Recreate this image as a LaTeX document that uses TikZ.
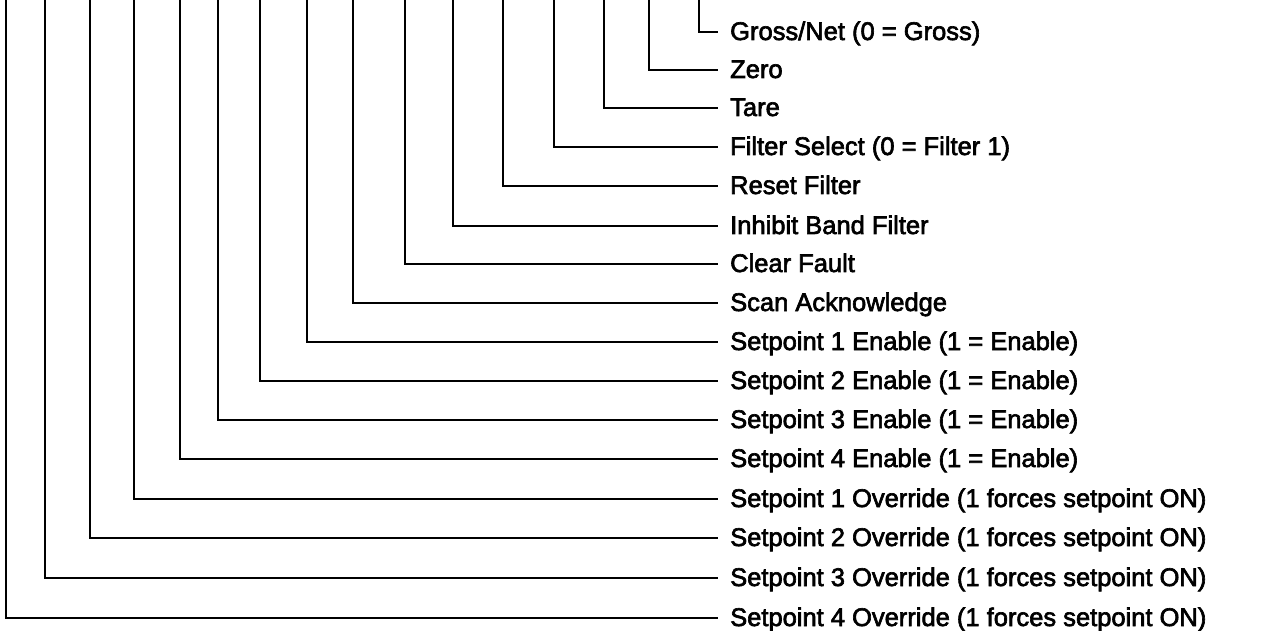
\documentclass[tikz,border=0pt]{standalone}
\usepackage{fontspec}
\setmainfont{Liberation Sans}
\newfontfamily\lblfont[FakeBold=2.5]{Liberation Sans}
\begin{document}
\begin{tikzpicture}[x=1pt,y=-1pt,
  wire/.style={line width=2.3pt,black},
  lbl/.style={anchor=base west,inner sep=0pt,font=\lblfont\fontsize{25.5}{28}\selectfont}]
\useasboundingbox (0,0) rectangle (1267,631);
\foreach \i/\x/\y/\t in {
 1/699/32/{Gross/Net (0 = Gross)},
 2/649/70/{Zero},
 3/604/108/{Tare},
 4/554/147/{Filter Select (0 = Filter 1)},
 5/503/186/{Reset Filter},
 6/453/226/{Inhibit Band Filter},
 7/405/264/{Clear Fault},
 8/353/303/{Scan Acknowledge},
 9/307/342/{Setpoint 1 Enable (1 = Enable)},
 10/260/381/{Setpoint 2 Enable (1 = Enable)},
 11/218/420/{Setpoint 3 Enable (1 = Enable)},
 12/180/459/{Setpoint 4 Enable (1 = Enable)},
 13/134/499/{Setpoint 1 Override (1 forces setpoint ON)},
 14/90/538/{Setpoint 2 Override (1 forces setpoint ON)},
 15/45/578/{Setpoint 3 Override (1 forces setpoint ON)},
 16/6/618/{Setpoint 4 Override (1 forces setpoint ON)}}{
  \coordinate (top\i) at (\x,-2);
  \coordinate (end\i) at (718,\y);
  \node[lbl] (l\i) at (730,\y+8) {\t};
  \draw[wire] (top\i) |- (end\i);
}
\end{tikzpicture}
\end{document}
